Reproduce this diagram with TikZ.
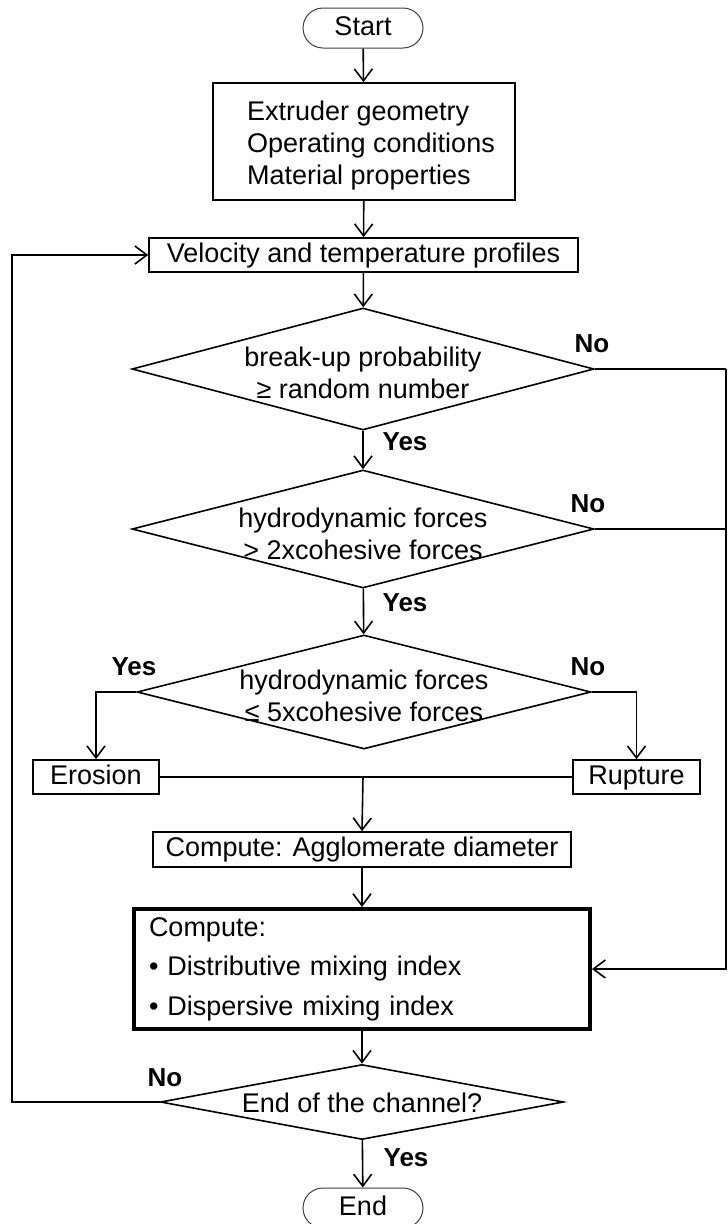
\documentclass[tikz,border=0pt]{standalone}
\usepackage{fontspec}
\setmainfont{Liberation Sans}
\usetikzlibrary{shapes.geometric,arrows.meta}
\begin{document}
\begin{tikzpicture}[x=1pt,y=-1pt,
  every node/.style={font=\fontsize{27}{32}\selectfont, inner sep=0pt},
  flow/.style={line width=1.6pt, -{Straight Barb[length=12pt,width=18pt,line width=1.6pt]}},
  link/.style={line width=1.6pt},
  procbox/.style={draw, rectangle, line width=1.6pt},
  oneline/.style={text height=19pt, text depth=5pt},
  terminal/.style={draw=black!75, line width=1pt, rounded corners=20pt,
    minimum width=120pt, minimum height=40pt, oneline},
  decision/.style={draw, diamond, line width=1.6pt},
  answer/.style={font=\fontsize{26}{30}\selectfont\bfseries},
]
% canvas
\fill[white] (0,0) rectangle (728,1224);
\useasboundingbox (0,0) rectangle (728,1224);

% return lines at the page borders
\coordinate (lx) at (12,0);
\coordinate (rx) at (726,0);

% terminals and process boxes
\node[terminal] (start) at (363,28) {Start};
\node[procbox, minimum width=302pt, minimum height=117pt,
  label={[align=left, xshift=7pt, yshift=-4pt]center:{Extruder geometry\\Operating conditions\\Material properties}}]
  (inputs) at (364,141.5) {};
\node[procbox, oneline, minimum width=429pt, minimum height=34pt] (profiles) at (363.5,255)
  {Velocity and temperature profiles};

% decisions
\node[decision, minimum width=462pt, minimum height=122pt,
  label={[align=center, yshift=-4pt]center:{break-up probability\\≥ random number}}] (prob) at (363,369) {};
\node[decision, minimum width=462pt, minimum height=118pt,
  label={[align=center, yshift=-5pt]center:{hydrodynamic forces\\> 2xcohesive forces}}] (force2) at (363,529) {};
\node[decision, minimum width=454pt, minimum height=114pt,
  label={[align=center, yshift=-4pt]center:{hydrodynamic forces\\≤ 5xcohesive forces}}] (force5) at (364,692) {};

% break-up modes
\node[procbox, oneline, minimum width=126pt, minimum height=34pt] (erosion) at (96,777) {Erosion};
\node[procbox, oneline, minimum width=127pt, minimum height=34pt] (rupture) at (636.5,777) {Rupture};
\coordinate (join) at (363,777);

\node[procbox, oneline, minimum width=418pt, minimum height=35pt] (diam) at (362,849.5)
  {Compute: Agglomerate diameter};
\node[procbox, line width=4pt, minimum width=456pt, minimum height=120pt,
  text width=426pt, align=left, font=\fontsize{27}{39.5}\selectfont] (mixing) at (362,969)
  {Compute:\\• Distributive mixing index\\• Dispersive mixing index};

\node[decision, minimum width=403pt, minimum height=75pt,
  label={[yshift=-1pt]center:{End of the channel?}}] (channel) at (362,1102) {};
\node[terminal] (stop) at (363,1208) {End};

% branch labels
\node[answer] at (592,344) {No};
\node[answer] at (405,442) {Yes};
\node[answer] at (588,504) {No};
\node[answer] at (405,603) {Yes};
\node[answer] at (134,667) {Yes};
\node[answer] at (588,667) {No};
\node[answer] at (165,1078) {No};
\node[answer] at (406,1158) {Yes};

% main flow
\draw[flow] (start) -- (inputs);
\draw[flow] (inputs) -- (profiles);
\draw[flow] (profiles) -- (prob);
\draw[flow] (prob) -- (force2);
\draw[flow] (force2) -- (force5);
\draw[flow] (force5.west) -| (erosion.north);
\draw[flow] (force5.east) -| (rupture.north);
\draw[link] (erosion.east) -- (join);
\draw[link] (rupture.west) -- (join);
\draw[flow] (join) -- (diam.north);
\draw[flow] (diam) -- (mixing);
\draw[flow] (mixing) -- (channel);
\draw[flow] (channel) -- (stop);

% "No" branches skipping to the mixing indices
\draw[link] (prob.east) -- (prob.east -| rx);
\draw[link] (force2.east) -- (force2.east -| rx);
\draw[flow] (prob.east -| rx) |- (mixing.east);

% loop back to the next channel position
\draw[flow] (channel.west) -- (channel.west -| lx) |- (profiles.west);
\end{tikzpicture}
\end{document}
